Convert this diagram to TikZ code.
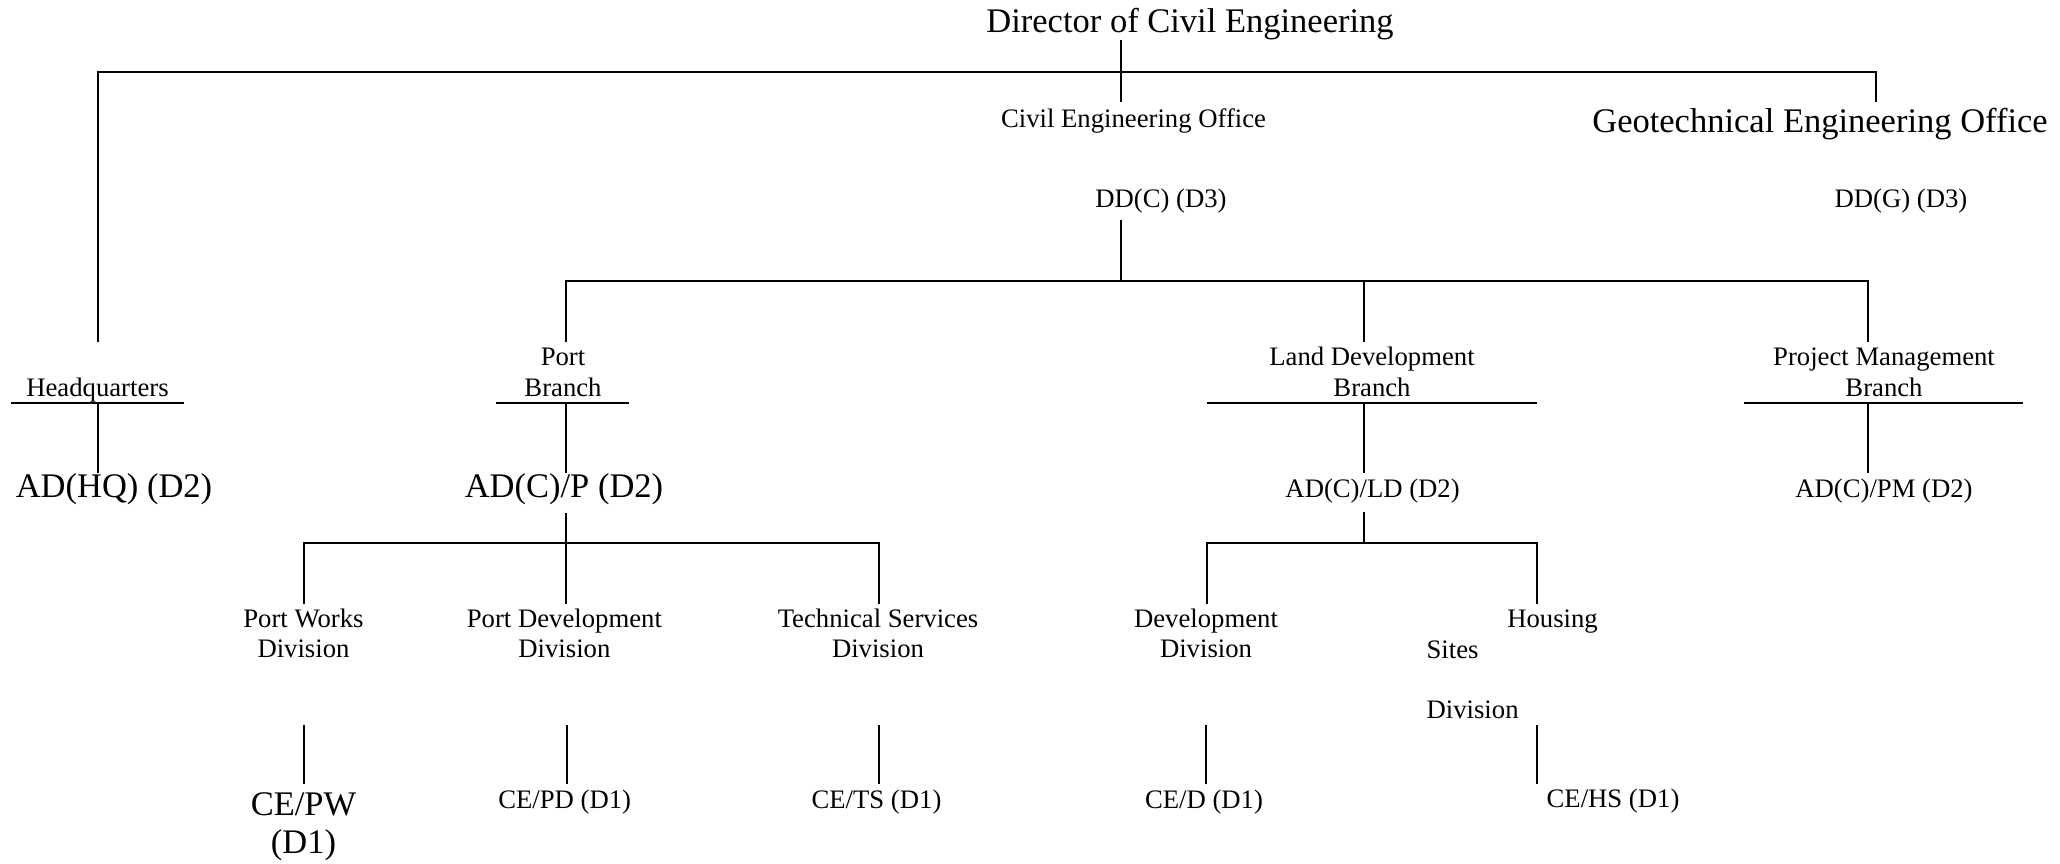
\documentclass[tikz,border=0pt]{standalone}
\usepackage{fontspec}
\setmainfont{Liberation Serif}
\tikzset{
  sm/.style={font=\fontsize{26.7}{30.3}\selectfont, inner sep=0pt, anchor=base, align=center},
  lg/.style={font=\fontsize{34.5}{38.3}\selectfont, inner sep=0pt, anchor=base, align=center},
  ln/.style={line width=2pt, line join=miter},
}
\begin{document}
\begin{tikzpicture}[x=1pt,y=-1pt]
\fill[white] (0,0) rectangle (2060,864);
\useasboundingbox (0,0) rectangle (2060,864);

% ---- text nodes (multi-line nodes are placed at the baseline of their last line)
\node[lg] (dir) at (1190,32.3) {Director of Civil Engineering};
\node[sm] (ceo) at (1133.5,127.5) {Civil Engineering Office};
\node[lg] (geo) at (1820,132.7) {Geotechnical Engineering Office};
\node[sm] (ddc) at (1161,207) {DD(C) (D3)};
\node[sm] (ddg) at (1901,207) {DD(G) (D3)};

\node[sm] (hq) at (97.5,396) {Headquarters};
\node[sm] (pb) at (563,396) {Port\\Branch};
\node[sm] (ldb) at (1372,396) {Land Development\\Branch};
\node[sm] (pmb) at (1884,396) {Project Management\\Branch};

\node[lg] (adhq) at (114,497) {AD(HQ) (D2)};
\node[lg] (adp) at (564,497) {AD(C)/P (D2)};
\node[sm] (adld) at (1372.6,497) {AD(C)/LD (D2)};
\node[sm] (adpm) at (1884,497) {AD(C)/PM (D2)};

\node[sm] (pw) at (303.5,657.3) {Port Works\\Division};
\node[sm] (pd) at (564.4,657.3) {Port Development\\Division};
\node[sm] (ts) at (878,657.3) {Technical Services\\Division};
\node[sm] (dd) at (1206,657.3) {Development\\Division};
\node[sm] (hs) at (1552.5,627.3) {Housing};
\node[sm, anchor=base west, align=left] (hsd) at (1426.4,718.5) {Sites\\[30.2pt]Division};

\node[lg] (cepw) at (303.5,853.3) {CE/PW\\(D1)};
\node[sm] (cepd) at (564.7,808) {CE/PD (D1)};
\node[sm] (cets) at (876.5,808) {CE/TS (D1)};
\node[sm] (ced) at (1204,808) {CE/D (D1)};
\node[sm] (cehs) at (1613,807) {CE/HS (D1)};

% ---- connector end points
\coordinate (dirB) at (1121,40);
\coordinate (ceoT) at (1121,102);
\coordinate (topL) at (98,71.7);
\coordinate (topR) at (1876,71.7);
\coordinate (geoT) at (1876,102);
\coordinate (hqT) at (98,341.7);

\coordinate (ddcB) at (1121,220);
\coordinate (brJ) at (1121,281);
\coordinate (brL) at (566,281);
\coordinate (brR) at (1868,281);
\coordinate (pbT) at (566,341.7);
\coordinate (ldT) at (1364.4,341.7);
\coordinate (ldJ) at (1364.4,281);
\coordinate (pmT) at (1868,341.7);

\coordinate (hqU1) at (11,403);   \coordinate (hqU2) at (184,403);
\coordinate (pbU1) at (496,403);  \coordinate (pbU2) at (629,403);
\coordinate (ldU1) at (1207,403); \coordinate (ldU2) at (1537,403);
\coordinate (pmU1) at (1744,403); \coordinate (pmU2) at (2023,403);

\coordinate (hqB) at (98,403);     \coordinate (adhqT) at (98,472.7);
\coordinate (pbB) at (566,403);    \coordinate (adpT) at (566,472.7);
\coordinate (ldB) at (1364.4,403); \coordinate (adldT) at (1364.4,472.7);
\coordinate (pmB) at (1867.5,403); \coordinate (adpmT) at (1867.5,472.7);

\coordinate (adpB) at (566,513);
\coordinate (pdT) at (566,603.7);
\coordinate (pwT) at (303.5,603.7);
\coordinate (pwJ) at (303.5,542.7);
\coordinate (tsJ) at (879,542.7);
\coordinate (tsT) at (879,603.7);

\coordinate (adldB) at (1364.4,512);
\coordinate (ldJ2) at (1364.4,542.7);
\coordinate (ddT) at (1207.4,603.7);
\coordinate (ddJ) at (1207.4,542.7);
\coordinate (hsJ) at (1536.6,542.7);
\coordinate (hsT) at (1536.6,603.7);

\coordinate (pwB) at (303.5,725);  \coordinate (cepwT) at (303.5,784);
\coordinate (pdB) at (566.5,725);  \coordinate (cepdT) at (566.5,784);
\coordinate (tsB) at (879,725);    \coordinate (cetsT) at (879,784);
\coordinate (ddB) at (1205.5,725); \coordinate (cedT) at (1205.5,784);
\coordinate (hsB) at (1536.6,725); \coordinate (cehsT) at (1536.6,784);

% ---- connectors
\draw[ln] (dirB) -- (ceoT);
\draw[ln] (hqT) -- (topL) -- (topR) -- (geoT);

\draw[ln] (ddcB) -- (brJ);
\draw[ln] (pbT) -- (brL) -- (brR) -- (pmT);
\draw[ln] (ldJ) -- (ldT);

\draw[ln] (hqU1) -- (hqU2);
\draw[ln] (pbU1) -- (pbU2);
\draw[ln] (ldU1) -- (ldU2);
\draw[ln] (pmU1) -- (pmU2);

\draw[ln] (hqB) -- (adhqT);
\draw[ln] (pbB) -- (adpT);
\draw[ln] (ldB) -- (adldT);
\draw[ln] (pmB) -- (adpmT);

\draw[ln] (adpB) -- (pdT);
\draw[ln] (pwT) -- (pwJ) -- (tsJ) -- (tsT);

\draw[ln] (adldB) -- (ldJ2);
\draw[ln] (ddT) -- (ddJ) -- (hsJ) -- (hsT);

\draw[ln] (pwB) -- (cepwT);
\draw[ln] (pdB) -- (cepdT);
\draw[ln] (tsB) -- (cetsT);
\draw[ln] (ddB) -- (cedT);
\draw[ln] (hsB) -- (cehsT);
\end{tikzpicture}
\end{document}
